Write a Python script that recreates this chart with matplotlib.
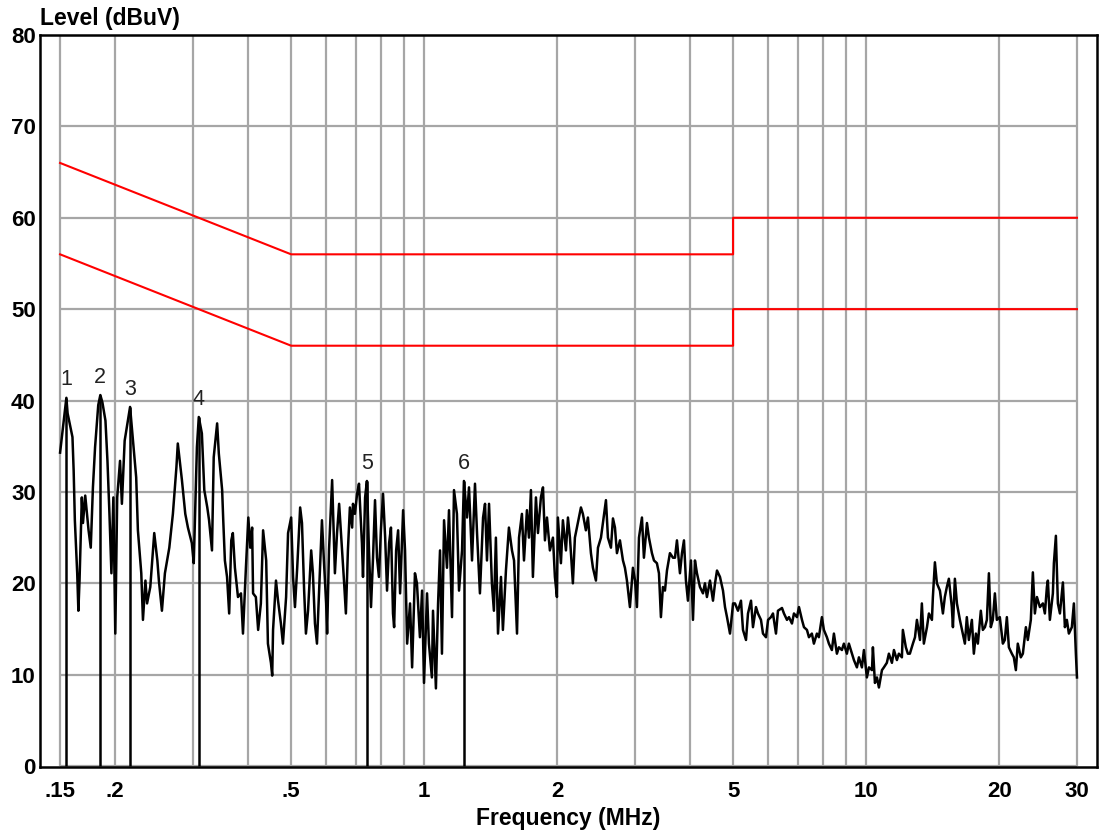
import matplotlib
matplotlib.use("Agg")
import matplotlib.pyplot as plt

plt.rcParams['font.family'] = ['Liberation Sans', 'DejaVu Sans']

# measured trace (MHz, dBuV)
freq = [0.150, 0.155, 0.156, 0.160, 0.161, 0.162, 0.164, 0.165, 0.166, 0.168,
        0.169, 0.171, 0.174, 0.176, 0.178, 0.180, 0.183, 0.185, 0.187, 0.190,
        0.192, 0.194, 0.196, 0.198, 0.200, 0.202, 0.205, 0.207, 0.210, 0.216,
        0.219, 0.223, 0.225, 0.229, 0.231, 0.234, 0.236, 0.240, 0.245, 0.249,
        0.251, 0.255, 0.259, 0.265, 0.270, 0.275, 0.277, 0.283, 0.288, 0.292,
        0.298, 0.301, 0.306, 0.309, 0.314, 0.318, 0.323, 0.326, 0.331, 0.334,
        0.340, 0.343, 0.349, 0.351, 0.354, 0.358, 0.362, 0.366, 0.369, 0.373,
        0.379, 0.385, 0.389, 0.395, 0.400, 0.404, 0.408, 0.410, 0.416, 0.421,
        0.427, 0.432, 0.439, 0.443, 0.450, 0.453, 0.455, 0.462, 0.467, 0.474,
        0.479, 0.487, 0.492, 0.500, 0.505, 0.510, 0.516, 0.524, 0.529, 0.535,
        0.540, 0.546, 0.555, 0.560, 0.566, 0.572, 0.578, 0.587, 0.593, 0.600,
        0.603, 0.609, 0.619, 0.622, 0.628, 0.635, 0.642, 0.652, 0.659, 0.665,
        0.672, 0.679, 0.687, 0.690, 0.697, 0.705, 0.712, 0.723, 0.727, 0.735,
        0.742, 0.750, 0.758, 0.766, 0.774, 0.782, 0.790, 0.798, 0.807, 0.816,
        0.824, 0.833, 0.841, 0.850, 0.855, 0.864, 0.873, 0.882, 0.896, 0.905,
        0.915, 0.929, 0.939, 0.953, 0.963, 0.978, 0.989, 0.999, 1.015, 1.025,
        1.041, 1.047, 1.063, 1.075, 1.086, 1.097, 1.109, 1.126, 1.138, 1.156,
        1.168, 1.186, 1.199, 1.218, 1.230, 1.250, 1.263, 1.283, 1.303, 1.317,
        1.337, 1.359, 1.373, 1.387, 1.402, 1.423, 1.438, 1.453, 1.469, 1.492,
        1.507, 1.531, 1.555, 1.580, 1.597, 1.622, 1.639, 1.664, 1.682, 1.708,
        1.726, 1.744, 1.762, 1.790, 1.809, 1.837, 1.857, 1.876, 1.896, 1.925,
        1.956, 1.976, 1.997, 2.007, 2.039, 2.060, 2.093, 2.115, 2.137, 2.170,
        2.193, 2.227, 2.263, 2.286, 2.322, 2.347, 2.384, 2.409, 2.447, 2.473,
        2.512, 2.538, 2.578, 2.605, 2.646, 2.674, 2.702, 2.730, 2.773, 2.817,
        2.846, 2.876, 2.921, 2.967, 3.000, 3.030, 3.062, 3.110, 3.142, 3.192,
        3.225, 3.276, 3.311, 3.362, 3.398, 3.433, 3.469, 3.506, 3.543, 3.598,
        3.656, 3.694, 3.732, 3.791, 3.831, 3.871, 3.911, 3.952, 4.015, 4.057,
        4.099, 4.142, 4.207, 4.274, 4.318, 4.363, 4.433, 4.503, 4.551, 4.598,
        4.670, 4.744, 4.794, 4.844, 4.920, 5.000, 5.050, 5.129, 5.210, 5.265,
        5.348, 5.404, 5.490, 5.546, 5.633, 5.692, 5.782, 5.843, 5.935, 6.000,
        6.091, 6.155, 6.252, 6.317, 6.451, 6.518, 6.621, 6.690, 6.795, 6.866,
        6.975, 7.048, 7.159, 7.234, 7.347, 7.424, 7.538, 7.618, 7.738, 7.818,
        7.942, 8.025, 8.152, 8.237, 8.366, 8.455, 8.588, 8.678, 8.815, 8.906,
        9.047, 9.141, 9.287, 9.385, 9.532, 9.632, 9.784, 9.886, 10.04, 10.15,
        10.31, 10.36, 10.47, 10.58, 10.69, 10.86, 10.97, 11.14, 11.26, 11.44,
        11.56, 11.74, 11.86, 12.05, 12.11, 12.30, 12.43, 12.56, 12.76, 12.90,
        13.03, 13.24, 13.37, 13.51, 13.73, 13.87, 14.09, 14.16, 14.31, 14.46,
        14.69, 14.92, 15.07, 15.23, 15.39, 15.63, 15.72, 15.88, 16.05, 16.30,
        16.55, 16.73, 16.90, 17.08, 17.35, 17.53, 17.72, 17.90, 18.18, 18.37,
        18.57, 18.76, 18.96, 19.15, 19.35, 19.56, 19.76, 20.07, 20.39, 20.60,
        20.82, 21.04, 21.37, 21.59, 21.82, 22.04, 22.39, 22.63, 22.99, 23.22,
        23.59, 23.84, 24.09, 24.35, 24.73, 25.12, 25.38, 25.65, 25.78, 26.05,
        26.46, 26.60, 26.88, 27.16, 27.45, 27.88, 28.17, 28.46, 28.76, 29.21,
        29.52, 29.83, 30.00]
level = [34.3, 40.3, 38.6, 36.0, 32.3, 26.9, 21.1, 17.0, 20.3, 29.4,
         26.6, 29.6, 25.8, 23.9, 30.5, 34.9, 39.5, 40.6, 39.8, 37.8,
         33.4, 27.6, 21.1, 29.4, 14.5, 29.4, 33.4, 28.7, 35.6, 39.3,
         36.0, 31.6, 25.8, 21.1, 16.0, 20.3, 17.8, 19.6, 25.5, 22.5,
         20.3, 17.0, 21.1, 23.9, 27.6, 32.7, 35.3, 31.3, 27.6, 26.1,
         24.4, 22.2, 34.9, 38.2, 36.4, 30.2, 28.3, 26.9, 23.6, 33.8,
         37.5, 34.2, 30.2, 26.9, 22.5, 20.7, 16.7, 24.7, 25.5, 21.7,
         18.5, 18.9, 14.5, 21.7, 27.2, 23.9, 26.1, 18.9, 18.5, 14.9,
         17.8, 25.8, 22.5, 13.4, 11.3, 9.9, 14.9, 20.3, 18.1, 15.6,
         13.4, 18.5, 25.5, 27.2, 20.7, 17.4, 21.7, 28.3, 26.6, 19.2,
         14.5, 17.0, 23.6, 21.1, 15.6, 13.4, 18.9, 26.9, 22.5, 17.8,
         14.5, 23.6, 31.3, 28.0, 21.1, 25.5, 28.7, 23.6, 20.0, 16.7,
         23.6, 28.3, 26.1, 28.7, 27.6, 29.8, 30.9, 24.4, 20.7, 29.4,
         31.2, 23.6, 17.4, 22.8, 29.1, 22.8, 20.7, 25.8, 29.8, 25.0,
         19.2, 24.4, 26.1, 16.7, 15.2, 23.6, 25.8, 18.9, 28.0, 23.6,
         13.4, 17.8, 10.8, 21.1, 20.0, 14.1, 19.2, 9.1, 18.9, 13.4,
         9.7, 17.0, 8.5, 17.8, 23.6, 12.3, 26.9, 21.7, 28.0, 16.3,
         30.2, 27.6, 19.2, 23.6, 31.2, 27.2, 30.5, 22.5, 30.9, 25.5,
         18.9, 27.2, 28.7, 22.5, 28.7, 20.0, 17.0, 25.0, 14.5, 20.7,
         14.9, 21.4, 26.1, 23.6, 22.5, 14.5, 25.0, 27.6, 22.5, 28.0,
         25.0, 30.2, 20.7, 29.4, 25.5, 29.4, 30.5, 24.7, 27.2, 23.6,
         25.0, 20.7, 18.5, 27.2, 22.2, 26.9, 23.6, 27.2, 25.0, 20.0,
         25.0, 26.6, 28.3, 27.6, 25.8, 27.2, 23.3, 21.7, 20.3, 23.9,
         25.0, 26.6, 29.1, 25.0, 23.9, 27.1, 26.1, 23.3, 24.7, 22.5,
         21.7, 20.3, 17.4, 21.7, 20.3, 17.4, 25.0, 27.2, 22.8, 26.6,
         25.0, 23.3, 22.5, 22.2, 21.1, 16.3, 19.6, 19.2, 21.4, 23.3,
         22.8, 22.8, 24.7, 21.1, 23.3, 24.7, 20.3, 18.1, 22.5, 16.0,
         22.5, 21.1, 19.6, 18.9, 20.0, 18.5, 20.3, 18.1, 20.0, 21.4,
         20.7, 19.2, 17.4, 16.3, 14.5, 17.8, 17.8, 17.0, 18.1, 14.9,
         13.8, 16.7, 18.1, 15.2, 17.4, 16.7, 16.0, 14.5, 14.1, 16.0,
         16.3, 16.7, 14.5, 17.0, 17.3, 16.7, 16.0, 16.3, 15.6, 16.7,
         16.3, 17.4, 16.0, 15.2, 14.9, 14.1, 14.5, 13.4, 14.5, 14.1,
         16.3, 14.9, 14.1, 13.4, 12.7, 14.5, 12.3, 13.0, 12.7, 13.4,
         12.3, 13.4, 12.3, 11.6, 10.8, 11.9, 10.8, 12.7, 9.7, 10.8,
         10.5, 13.0, 9.1, 9.7, 8.6, 10.5, 10.8, 11.3, 12.3, 11.3,
         12.7, 11.6, 12.3, 11.9, 14.9, 13.0, 12.3, 12.3, 13.4, 14.1,
         16.0, 13.8, 17.8, 13.4, 15.2, 16.7, 16.0, 18.5, 22.3, 20.0,
         19.2, 16.7, 18.5, 19.6, 20.5, 17.4, 15.2, 20.5, 17.8, 16.0,
         14.5, 13.4, 16.3, 13.8, 16.0, 12.3, 14.5, 13.4, 17.0, 14.9,
         15.2, 16.0, 21.1, 15.2, 16.0, 18.9, 16.0, 16.3, 13.4, 13.8,
         16.3, 13.0, 12.3, 11.9, 10.5, 13.4, 11.9, 12.3, 15.2, 13.8,
         16.0, 21.2, 16.7, 18.5, 17.4, 17.8, 16.7, 19.6, 20.3, 16.0,
         18.9, 22.2, 25.2, 17.8, 16.7, 20.1, 15.2, 16.0, 14.5, 15.2,
         17.8, 12.3, 9.7]

# marker peaks
marker_freq = [0.155, 0.185, 0.216, 0.309, 0.742, 1.230]
marker_level = [40.3, 40.6, 39.3, 38.2, 31.2, 31.2]
marker_names = ["1", "2", "3", "4", "5", "6"]

# limit lines
limit_freq = [0.15, 0.5, 5, 5, 30]
qp_limit = [66, 56, 56, 60, 60]
av_limit = [56, 46, 46, 50, 50]

grid_freq = [0.15, 0.2, 0.3, 0.4, 0.5, 0.6, 0.7, 0.8, 0.9, 1, 2, 3, 4, 5,
             6, 7, 8, 9, 10, 20, 30]
grid_level = [0, 10, 20, 30, 40, 50, 60, 70, 80]
xtick_vals = [0.15, 0.2, 0.5, 1, 2, 5, 10, 20, 30]
xtick_text = [".15", ".2", ".5", "1", "2", "5", "10", "20", "30"]


def main():
    fig = plt.figure(figsize=(11.01, 8.32), dpi=100)
    ax = fig.add_axes([40 / 1101, 1 - 767 / 832, 1057 / 1101, 732 / 832])
    ax.set_xscale("log")
    ax.set_xlim(0.1351, 33.3)
    ax.set_ylim(-0.1, 80)

    grey = "#a6a6a6"
    ax.vlines(grid_freq, 0, 80, colors=grey, lw=1.6, zorder=1)
    ax.hlines(grid_level, 0.15, 30, colors=grey, lw=1.6, zorder=1)

    ax.plot(limit_freq, qp_limit, color="red", lw=1.5, zorder=3)
    ax.plot(limit_freq, av_limit, color="red", lw=1.5, zorder=3)

    ax.plot(freq, level, color="black", lw=1.8, zorder=4)

    ax.vlines(marker_freq, 0, marker_level, colors="black", lw=1.8, zorder=5)
    for f, l, n in zip(marker_freq, marker_level, marker_names):
        ax.text(f, l + 0.8, n, ha="center", va="bottom", fontsize=15.5,
                color="#222222")

    ax.set_xticks(xtick_vals)
    ax.set_xticklabels(xtick_text)
    ax.minorticks_off()
    ax.set_yticks(grid_level)
    ax.tick_params(length=0, labelsize=16, pad=3)
    for t in ax.get_xticklabels() + ax.get_yticklabels():
        t.set_fontweight("bold")
    ax.tick_params(axis="x", pad=10)

    for s in ax.spines.values():
        s.set_color("black")
        s.set_linewidth(1.8)

    ax.set_xlabel("Frequency (MHz)", fontsize=16.5, fontweight="bold",
                  labelpad=4)
    fig.text(40 / 1101, 1 - 18 / 832, "Level (dBuV)", fontsize=16.5,
             fontweight="bold", ha="left", va="center")

    fig.savefig("out.png", dpi=100)


if __name__ == "__main__":
    main()
